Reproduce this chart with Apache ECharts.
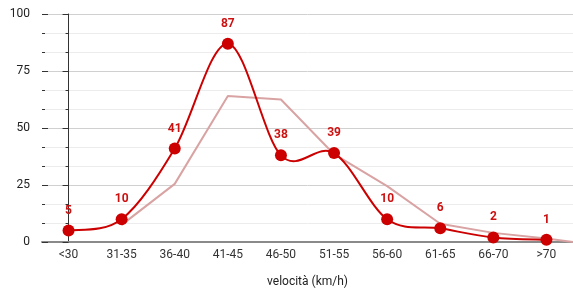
<!DOCTYPE html>
<html><head><meta charset="utf-8">
<script src="https://cdn.jsdelivr.net/npm/echarts@6/dist/echarts.min.js"></script>
<style>html,body{margin:0;padding:0;background:#fff}#c{width:573px;height:294px}</style>
</head><body><div id="c"></div>
<script>
const categories = ['<30','31-35','36-40','41-45','46-50','51-55','56-60','61-65','66-70','>70'];
const values = [5,10,41,87,38,39,10,6,2,1];
// trend line: [category position, value]
const trendX = [1,2,3,4,5,6,7,8,9,9.5];
const trendY = [7.5,25.5,64,62.5,38.5,24.5,8,4,1.5,0];
const yTicks = [0,25,50,75,100];

const chart = echarts.init(document.getElementById('c'), null, {renderer:'canvas'});
const font = 'Roboto, Arial, sans-serif';
const RED = '#cc0000';

// Catmull-Rom curve segment from point i to i+1, using the axis scales via api.coord
function renderSpline(params, api){
  const i = params.dataIndex, n = values.length;
  if (i >= n - 1) return null;
  const c = k => { k = Math.max(0, Math.min(n - 1, k)); return api.coord([k, values[k]]); };
  const p0 = c(i - 1), p1 = c(i), p2 = c(i + 1), p3 = c(i + 2);
  return {
    type:'bezierCurve',
    shape:{
      x1:p1[0], y1:p1[1], x2:p2[0], y2:p2[1],
      cpx1:p1[0] + (p2[0] - p0[0]) / 6, cpy1:p1[1] + (p2[1] - p0[1]) / 6,
      cpx2:p2[0] - (p3[0] - p1[0]) / 6, cpy2:p2[1] - (p3[1] - p1[1]) / 6
    },
    style:{stroke:RED, lineWidth:2, fill:null},
    silent:true
  };
}

chart.setOption({
  animation:false,
  grid:{left:42, right:-3, top:14, bottom:52, containLabel:false},
  xAxis:[{
    type:'category', data:categories, boundaryGap:true,
    axisLine:{lineStyle:{color:'#8a8a8a', width:2}},
    axisTick:{show:false},
    axisLabel:{color:'#333', fontSize:12, fontFamily:font, margin:7},
    name:'velocità (km/h)', nameLocation:'middle', nameGap:34,
    nameTextStyle:{color:'#222', fontSize:12, fontFamily:font}
  },{
    type:'value', min:-0.5, max:9.5, show:false
  }],
  yAxis:[{
    type:'value', min:0, max:100, interval:25,
    axisLine:{show:true, lineStyle:{color:'#333', width:1}},
    axisTick:{show:true, length:6, lineStyle:{color:'#333'}},
    minorTick:{show:true, splitNumber:3, length:3, lineStyle:{color:'#333'}},
    splitLine:{show:true, lineStyle:{color:'#d0d0d0'}},
    minorSplitLine:{show:true, lineStyle:{color:'#ececec'}},
    axisLabel:{color:'#222', fontSize:12, fontFamily:font, margin:12,
      formatter:v=>yTicks.includes(v)?String(v):''}
  },{
    type:'value', min:0, max:100, interval:25, position:'left',
    axisLine:{show:false},
    axisTick:{show:true, inside:true, length:6, lineStyle:{color:'#333'}},
    minorTick:{show:true, splitNumber:3, length:3, lineStyle:{color:'#333'}},
    splitLine:{show:false}, axisLabel:{show:false}
  }],
  series:[{
    type:'line', xAxisIndex:1, yAxisIndex:0,
    data:trendX.map((x,i)=>[x,trendY[i]]),
    symbol:'none', lineStyle:{color:'#d9a3a3', width:2}, z:2
  },{
    type:'custom', xAxisIndex:0, yAxisIndex:0,
    data:values.map((v,i)=>[i,v]),
    renderItem:renderSpline, z:3
  },{
    type:'line', data:values,
    symbol:'circle', symbolSize:12,
    itemStyle:{color:RED},
    lineStyle:{width:0, opacity:0},
    label:{show:true, position:'top', distance:8, color:'#cc1111',
      fontWeight:'bold', fontSize:12, fontFamily:font},
    z:4
  }]
});
</script></body></html>
